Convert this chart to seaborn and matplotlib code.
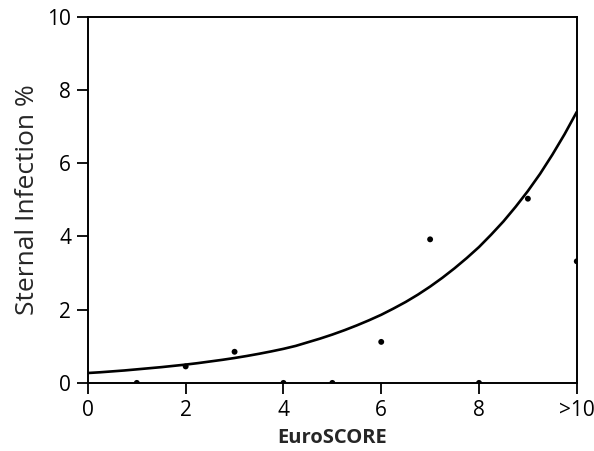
import matplotlib
matplotlib.use("Agg")
import matplotlib.pyplot as plt
import pandas as pd
import seaborn as sns

# observed infection rate per EuroSCORE group
euroscore = [1, 2, 3, 4, 5, 6, 7, 8, 9, 10]
infection_pct = [0.0, 0.45, 0.85, 0.0, 0.0, 1.12, 3.92, 0.0, 5.03, 3.32]

# fitted curve, every quarter unit
curve_x = [0, 0.25, 0.5, 0.75, 1, 1.25, 1.5, 1.75, 2, 2.25, 2.5, 2.75,
           3, 3.25, 3.5, 3.75, 4, 4.25, 4.5, 4.75, 5, 5.25, 5.5, 5.75,
           6, 6.25, 6.5, 6.75, 7, 7.25, 7.5, 7.75, 8, 8.25, 8.5, 8.75,
           9, 9.25, 9.5, 9.75, 10]
curve_y = [0.27, 0.29, 0.315, 0.34, 0.37, 0.40, 0.43, 0.465, 0.50, 0.54, 0.585, 0.63,
           0.68, 0.735, 0.795, 0.86, 0.93, 1.01, 1.11, 1.21, 1.32, 1.44, 1.57, 1.71,
           1.86, 2.03, 2.21, 2.41, 2.63, 2.87, 3.13, 3.41, 3.71, 4.05, 4.41, 4.81,
           5.24, 5.71, 6.23, 6.79, 7.40]

xtick_labels = ["0", "2", "4", "6", "8", ">10"]

sns.set_style("white")
plt.rcParams["font.family"] = ["Open Sans", "DejaVu Sans"]

pts = pd.DataFrame({"x": euroscore, "y": infection_pct})
fit = pd.DataFrame({"x": curve_x, "y": curve_y})

fig = plt.figure(figsize=(5.94, 4.51), dpi=100)
ax = fig.add_axes([0.148, 0.151, 0.823, 0.812])

sns.lineplot(data=fit, x="x", y="y", color="black", linewidth=1.9, ax=ax)
sns.scatterplot(data=pts, x="x", y="y", color="black", s=18, edgecolor="none", ax=ax)

ax.set_xlim(0, 10)
ax.set_ylim(0, 10)
ax.set_xticks([0, 2, 4, 6, 8, 10])
ax.set_xticklabels(xtick_labels)
ax.set_yticks([0, 2, 4, 6, 8, 10])
ax.tick_params(axis="both", direction="out", length=8, width=1.3, labelsize=15,
               color="black", labelcolor="black", pad=4)
ax.tick_params(top=False, right=False, left=True, bottom=True)

for s in ax.spines.values():
    s.set_color("black")
    s.set_linewidth(1.4)

ax.set_xlabel("EuroSCORE", fontsize=14.5, fontweight="bold", labelpad=5)
ax.set_ylabel("Sternal Infection %", fontsize=19, labelpad=5)

fig.savefig("out.png", dpi=100)
